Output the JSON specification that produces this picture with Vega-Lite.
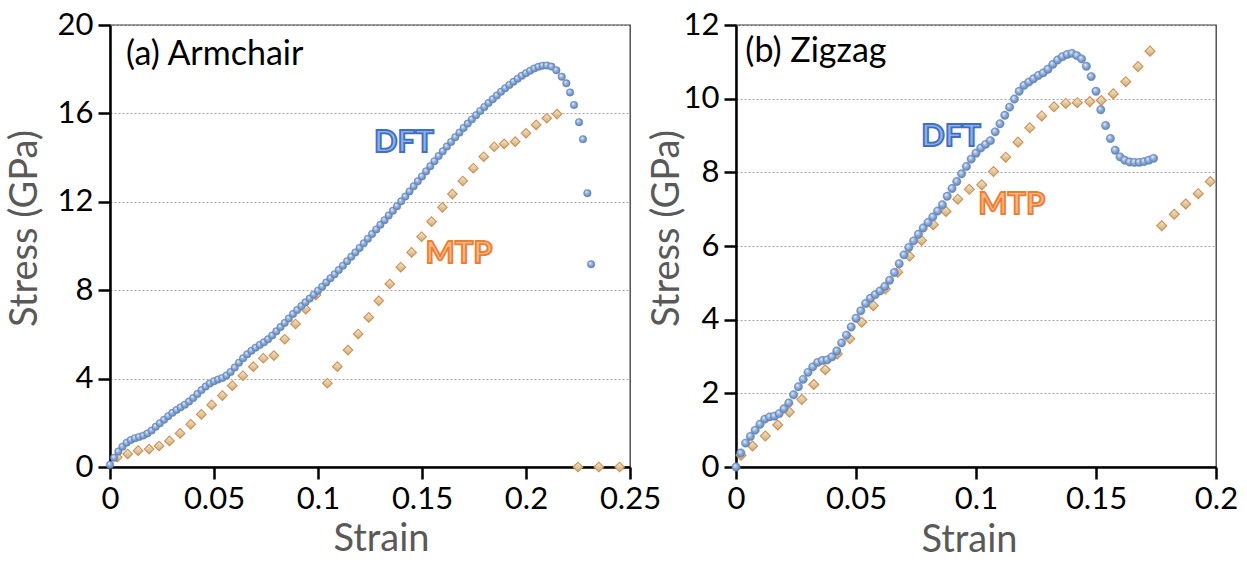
{
  "$schema": "https://vega.github.io/schema/vega-lite/v6.json",
  "padding": {"left": 5, "top": 8, "right": 5, "bottom": 5},
  "bounds": "flush",
  "spacing": 106,
  "datasets": {
    "pts": [
      {"panel":"a","series":"DFT","strain":0.000,"stress":0.10},
      {"panel":"a","series":"DFT","strain":0.002,"stress":0.42},
      {"panel":"a","series":"DFT","strain":0.004,"stress":0.70},
      {"panel":"a","series":"DFT","strain":0.006,"stress":0.92},
      {"panel":"a","series":"DFT","strain":0.008,"stress":1.10},
      {"panel":"a","series":"DFT","strain":0.010,"stress":1.22},
      {"panel":"a","series":"DFT","strain":0.012,"stress":1.30},
      {"panel":"a","series":"DFT","strain":0.014,"stress":1.36},
      {"panel":"a","series":"DFT","strain":0.016,"stress":1.42},
      {"panel":"a","series":"DFT","strain":0.018,"stress":1.52},
      {"panel":"a","series":"DFT","strain":0.020,"stress":1.65},
      {"panel":"a","series":"DFT","strain":0.022,"stress":1.82},
      {"panel":"a","series":"DFT","strain":0.024,"stress":1.98},
      {"panel":"a","series":"DFT","strain":0.026,"stress":2.14},
      {"panel":"a","series":"DFT","strain":0.028,"stress":2.30},
      {"panel":"a","series":"DFT","strain":0.030,"stress":2.45},
      {"panel":"a","series":"DFT","strain":0.032,"stress":2.58},
      {"panel":"a","series":"DFT","strain":0.034,"stress":2.70},
      {"panel":"a","series":"DFT","strain":0.036,"stress":2.82},
      {"panel":"a","series":"DFT","strain":0.038,"stress":2.96},
      {"panel":"a","series":"DFT","strain":0.040,"stress":3.12},
      {"panel":"a","series":"DFT","strain":0.042,"stress":3.30},
      {"panel":"a","series":"DFT","strain":0.044,"stress":3.48},
      {"panel":"a","series":"DFT","strain":0.046,"stress":3.64},
      {"panel":"a","series":"DFT","strain":0.048,"stress":3.78},
      {"panel":"a","series":"DFT","strain":0.050,"stress":3.88},
      {"panel":"a","series":"DFT","strain":0.052,"stress":3.96},
      {"panel":"a","series":"DFT","strain":0.054,"stress":4.03},
      {"panel":"a","series":"DFT","strain":0.056,"stress":4.14},
      {"panel":"a","series":"DFT","strain":0.058,"stress":4.30},
      {"panel":"a","series":"DFT","strain":0.060,"stress":4.50},
      {"panel":"a","series":"DFT","strain":0.062,"stress":4.72},
      {"panel":"a","series":"DFT","strain":0.064,"stress":4.92},
      {"panel":"a","series":"DFT","strain":0.066,"stress":5.10},
      {"panel":"a","series":"DFT","strain":0.068,"stress":5.26},
      {"panel":"a","series":"DFT","strain":0.070,"stress":5.40},
      {"panel":"a","series":"DFT","strain":0.072,"stress":5.52},
      {"panel":"a","series":"DFT","strain":0.074,"stress":5.64},
      {"panel":"a","series":"DFT","strain":0.076,"stress":5.78},
      {"panel":"a","series":"DFT","strain":0.078,"stress":5.95},
      {"panel":"a","series":"DFT","strain":0.080,"stress":6.14},
      {"panel":"a","series":"DFT","strain":0.082,"stress":6.33},
      {"panel":"a","series":"DFT","strain":0.084,"stress":6.52},
      {"panel":"a","series":"DFT","strain":0.086,"stress":6.72},
      {"panel":"a","series":"DFT","strain":0.088,"stress":6.92},
      {"panel":"a","series":"DFT","strain":0.090,"stress":7.10},
      {"panel":"a","series":"DFT","strain":0.092,"stress":7.28},
      {"panel":"a","series":"DFT","strain":0.094,"stress":7.45},
      {"panel":"a","series":"DFT","strain":0.096,"stress":7.62},
      {"panel":"a","series":"DFT","strain":0.098,"stress":7.80},
      {"panel":"a","series":"DFT","strain":0.100,"stress":7.98},
      {"panel":"a","series":"DFT","strain":0.102,"stress":8.16},
      {"panel":"a","series":"DFT","strain":0.104,"stress":8.35},
      {"panel":"a","series":"DFT","strain":0.106,"stress":8.54},
      {"panel":"a","series":"DFT","strain":0.108,"stress":8.72},
      {"panel":"a","series":"DFT","strain":0.110,"stress":8.91},
      {"panel":"a","series":"DFT","strain":0.112,"stress":9.11},
      {"panel":"a","series":"DFT","strain":0.114,"stress":9.31},
      {"panel":"a","series":"DFT","strain":0.116,"stress":9.51},
      {"panel":"a","series":"DFT","strain":0.118,"stress":9.71},
      {"panel":"a","series":"DFT","strain":0.120,"stress":9.91},
      {"panel":"a","series":"DFT","strain":0.122,"stress":10.12},
      {"panel":"a","series":"DFT","strain":0.124,"stress":10.33},
      {"panel":"a","series":"DFT","strain":0.126,"stress":10.54},
      {"panel":"a","series":"DFT","strain":0.128,"stress":10.75},
      {"panel":"a","series":"DFT","strain":0.130,"stress":10.96},
      {"panel":"a","series":"DFT","strain":0.132,"stress":11.17},
      {"panel":"a","series":"DFT","strain":0.134,"stress":11.38},
      {"panel":"a","series":"DFT","strain":0.136,"stress":11.59},
      {"panel":"a","series":"DFT","strain":0.138,"stress":11.80},
      {"panel":"a","series":"DFT","strain":0.140,"stress":12.02},
      {"panel":"a","series":"DFT","strain":0.142,"stress":12.24},
      {"panel":"a","series":"DFT","strain":0.144,"stress":12.47},
      {"panel":"a","series":"DFT","strain":0.146,"stress":12.70},
      {"panel":"a","series":"DFT","strain":0.148,"stress":12.93},
      {"panel":"a","series":"DFT","strain":0.150,"stress":13.15},
      {"panel":"a","series":"DFT","strain":0.152,"stress":13.38},
      {"panel":"a","series":"DFT","strain":0.154,"stress":13.61},
      {"panel":"a","series":"DFT","strain":0.156,"stress":13.84},
      {"panel":"a","series":"DFT","strain":0.158,"stress":14.07},
      {"panel":"a","series":"DFT","strain":0.160,"stress":14.29},
      {"panel":"a","series":"DFT","strain":0.162,"stress":14.50},
      {"panel":"a","series":"DFT","strain":0.164,"stress":14.71},
      {"panel":"a","series":"DFT","strain":0.166,"stress":14.92},
      {"panel":"a","series":"DFT","strain":0.168,"stress":15.13},
      {"panel":"a","series":"DFT","strain":0.170,"stress":15.34},
      {"panel":"a","series":"DFT","strain":0.172,"stress":15.54},
      {"panel":"a","series":"DFT","strain":0.174,"stress":15.73},
      {"panel":"a","series":"DFT","strain":0.176,"stress":15.92},
      {"panel":"a","series":"DFT","strain":0.178,"stress":16.11},
      {"panel":"a","series":"DFT","strain":0.180,"stress":16.29},
      {"panel":"a","series":"DFT","strain":0.182,"stress":16.47},
      {"panel":"a","series":"DFT","strain":0.184,"stress":16.64},
      {"panel":"a","series":"DFT","strain":0.186,"stress":16.81},
      {"panel":"a","series":"DFT","strain":0.188,"stress":16.98},
      {"panel":"a","series":"DFT","strain":0.190,"stress":17.14},
      {"panel":"a","series":"DFT","strain":0.192,"stress":17.29},
      {"panel":"a","series":"DFT","strain":0.194,"stress":17.43},
      {"panel":"a","series":"DFT","strain":0.196,"stress":17.57},
      {"panel":"a","series":"DFT","strain":0.198,"stress":17.70},
      {"panel":"a","series":"DFT","strain":0.200,"stress":17.82},
      {"panel":"a","series":"DFT","strain":0.202,"stress":17.93},
      {"panel":"a","series":"DFT","strain":0.204,"stress":18.03},
      {"panel":"a","series":"DFT","strain":0.206,"stress":18.11},
      {"panel":"a","series":"DFT","strain":0.208,"stress":18.16},
      {"panel":"a","series":"DFT","strain":0.210,"stress":18.17},
      {"panel":"a","series":"DFT","strain":0.2122,"stress":18.12},
      {"panel":"a","series":"DFT","strain":0.2146,"stress":17.95},
      {"panel":"a","series":"DFT","strain":0.2172,"stress":17.66},
      {"panel":"a","series":"DFT","strain":0.2194,"stress":17.36},
      {"panel":"a","series":"DFT","strain":0.2212,"stress":16.95},
      {"panel":"a","series":"DFT","strain":0.2231,"stress":16.38},
      {"panel":"a","series":"DFT","strain":0.2255,"stress":15.6},
      {"panel":"a","series":"DFT","strain":0.2274,"stress":14.83},
      {"panel":"a","series":"DFT","strain":0.2295,"stress":12.39},
      {"panel":"a","series":"DFT","strain":0.2313,"stress":9.17},

      {"panel":"a","series":"MTP","strain":0.0035,"stress":0.44},
      {"panel":"a","series":"MTP","strain":0.0085,"stress":0.59},
      {"panel":"a","series":"MTP","strain":0.0135,"stress":0.74},
      {"panel":"a","series":"MTP","strain":0.0188,"stress":0.81},
      {"panel":"a","series":"MTP","strain":0.0236,"stress":0.95},
      {"panel":"a","series":"MTP","strain":0.0286,"stress":1.18},
      {"panel":"a","series":"MTP","strain":0.0337,"stress":1.52},
      {"panel":"a","series":"MTP","strain":0.0388,"stress":1.93},
      {"panel":"a","series":"MTP","strain":0.0439,"stress":2.38},
      {"panel":"a","series":"MTP","strain":0.0489,"stress":2.81},
      {"panel":"a","series":"MTP","strain":0.0540,"stress":3.23},
      {"panel":"a","series":"MTP","strain":0.0588,"stress":3.68},
      {"panel":"a","series":"MTP","strain":0.0639,"stress":4.13},
      {"panel":"a","series":"MTP","strain":0.0689,"stress":4.54},
      {"panel":"a","series":"MTP","strain":0.0737,"stress":4.92},
      {"panel":"a","series":"MTP","strain":0.0788,"stress":5.04},
      {"panel":"a","series":"MTP","strain":0.0840,"stress":5.78},
      {"panel":"a","series":"MTP","strain":0.0892,"stress":6.47},
      {"panel":"a","series":"MTP","strain":0.0941,"stress":7.14},
      {"panel":"a","series":"MTP","strain":0.0990,"stress":7.78},
      {"panel":"a","series":"MTP","strain":0.1045,"stress":3.79},
      {"panel":"a","series":"MTP","strain":0.1093,"stress":4.54},
      {"panel":"a","series":"MTP","strain":0.1144,"stress":5.29},
      {"panel":"a","series":"MTP","strain":0.1193,"stress":6.02},
      {"panel":"a","series":"MTP","strain":0.1244,"stress":6.77},
      {"panel":"a","series":"MTP","strain":0.1292,"stress":7.52},
      {"panel":"a","series":"MTP","strain":0.1345,"stress":8.28},
      {"panel":"a","series":"MTP","strain":0.1398,"stress":9.04},
      {"panel":"a","series":"MTP","strain":0.1450,"stress":9.71},
      {"panel":"a","series":"MTP","strain":0.1498,"stress":10.42},
      {"panel":"a","series":"MTP","strain":0.1546,"stress":11.10},
      {"panel":"a","series":"MTP","strain":0.1598,"stress":11.75},
      {"panel":"a","series":"MTP","strain":0.1646,"stress":12.35},
      {"panel":"a","series":"MTP","strain":0.1696,"stress":12.94},
      {"panel":"a","series":"MTP","strain":0.1747,"stress":13.52},
      {"panel":"a","series":"MTP","strain":0.1797,"stress":14.04},
      {"panel":"a","series":"MTP","strain":0.1847,"stress":14.49},
      {"panel":"a","series":"MTP","strain":0.1895,"stress":14.62},
      {"panel":"a","series":"MTP","strain":0.1948,"stress":14.72},
      {"panel":"a","series":"MTP","strain":0.2000,"stress":15.10},
      {"panel":"a","series":"MTP","strain":0.2049,"stress":15.48},
      {"panel":"a","series":"MTP","strain":0.2100,"stress":15.78},
      {"panel":"a","series":"MTP","strain":0.2149,"stress":15.97},
      {"panel":"a","series":"MTP","strain":0.2250,"stress":0},
      {"panel":"a","series":"MTP","strain":0.2350,"stress":0},
      {"panel":"a","series":"MTP","strain":0.2450,"stress":0},

      {"panel":"b","series":"DFT","strain":0.000,"stress":0.00},
      {"panel":"b","series":"DFT","strain":0.002,"stress":0.38},
      {"panel":"b","series":"DFT","strain":0.004,"stress":0.65},
      {"panel":"b","series":"DFT","strain":0.006,"stress":0.83},
      {"panel":"b","series":"DFT","strain":0.008,"stress":1.00},
      {"panel":"b","series":"DFT","strain":0.010,"stress":1.16},
      {"panel":"b","series":"DFT","strain":0.012,"stress":1.30},
      {"panel":"b","series":"DFT","strain":0.014,"stress":1.36},
      {"panel":"b","series":"DFT","strain":0.016,"stress":1.38},
      {"panel":"b","series":"DFT","strain":0.018,"stress":1.45},
      {"panel":"b","series":"DFT","strain":0.020,"stress":1.58},
      {"panel":"b","series":"DFT","strain":0.022,"stress":1.74},
      {"panel":"b","series":"DFT","strain":0.024,"stress":1.96},
      {"panel":"b","series":"DFT","strain":0.026,"stress":2.18},
      {"panel":"b","series":"DFT","strain":0.028,"stress":2.38},
      {"panel":"b","series":"DFT","strain":0.030,"stress":2.57},
      {"panel":"b","series":"DFT","strain":0.032,"stress":2.72},
      {"panel":"b","series":"DFT","strain":0.034,"stress":2.84},
      {"panel":"b","series":"DFT","strain":0.036,"stress":2.89},
      {"panel":"b","series":"DFT","strain":0.038,"stress":2.91},
      {"panel":"b","series":"DFT","strain":0.040,"stress":2.99},
      {"panel":"b","series":"DFT","strain":0.042,"stress":3.15},
      {"panel":"b","series":"DFT","strain":0.044,"stress":3.37},
      {"panel":"b","series":"DFT","strain":0.046,"stress":3.58},
      {"panel":"b","series":"DFT","strain":0.048,"stress":3.80},
      {"panel":"b","series":"DFT","strain":0.050,"stress":4.04},
      {"panel":"b","series":"DFT","strain":0.052,"stress":4.24},
      {"panel":"b","series":"DFT","strain":0.054,"stress":4.44},
      {"panel":"b","series":"DFT","strain":0.056,"stress":4.58},
      {"panel":"b","series":"DFT","strain":0.058,"stress":4.68},
      {"panel":"b","series":"DFT","strain":0.060,"stress":4.78},
      {"panel":"b","series":"DFT","strain":0.062,"stress":4.90},
      {"panel":"b","series":"DFT","strain":0.064,"stress":5.07},
      {"panel":"b","series":"DFT","strain":0.066,"stress":5.28},
      {"panel":"b","series":"DFT","strain":0.068,"stress":5.52},
      {"panel":"b","series":"DFT","strain":0.070,"stress":5.76},
      {"panel":"b","series":"DFT","strain":0.072,"stress":5.96},
      {"panel":"b","series":"DFT","strain":0.074,"stress":6.14},
      {"panel":"b","series":"DFT","strain":0.076,"stress":6.32},
      {"panel":"b","series":"DFT","strain":0.078,"stress":6.49},
      {"panel":"b","series":"DFT","strain":0.080,"stress":6.64},
      {"panel":"b","series":"DFT","strain":0.082,"stress":6.79},
      {"panel":"b","series":"DFT","strain":0.084,"stress":6.95},
      {"panel":"b","series":"DFT","strain":0.086,"stress":7.12},
      {"panel":"b","series":"DFT","strain":0.088,"stress":7.35},
      {"panel":"b","series":"DFT","strain":0.090,"stress":7.56},
      {"panel":"b","series":"DFT","strain":0.092,"stress":7.75},
      {"panel":"b","series":"DFT","strain":0.094,"stress":7.96},
      {"panel":"b","series":"DFT","strain":0.096,"stress":8.16},
      {"panel":"b","series":"DFT","strain":0.098,"stress":8.36},
      {"panel":"b","series":"DFT","strain":0.100,"stress":8.52},
      {"panel":"b","series":"DFT","strain":0.102,"stress":8.66},
      {"panel":"b","series":"DFT","strain":0.104,"stress":8.76},
      {"panel":"b","series":"DFT","strain":0.106,"stress":8.86},
      {"panel":"b","series":"DFT","strain":0.108,"stress":9.10},
      {"panel":"b","series":"DFT","strain":0.110,"stress":9.32},
      {"panel":"b","series":"DFT","strain":0.112,"stress":9.55},
      {"panel":"b","series":"DFT","strain":0.114,"stress":9.77},
      {"panel":"b","series":"DFT","strain":0.116,"stress":9.99},
      {"panel":"b","series":"DFT","strain":0.118,"stress":10.20},
      {"panel":"b","series":"DFT","strain":0.120,"stress":10.36},
      {"panel":"b","series":"DFT","strain":0.122,"stress":10.45},
      {"panel":"b","series":"DFT","strain":0.124,"stress":10.54},
      {"panel":"b","series":"DFT","strain":0.126,"stress":10.63},
      {"panel":"b","series":"DFT","strain":0.128,"stress":10.70},
      {"panel":"b","series":"DFT","strain":0.130,"stress":10.80},
      {"panel":"b","series":"DFT","strain":0.132,"stress":10.93},
      {"panel":"b","series":"DFT","strain":0.134,"stress":11.05},
      {"panel":"b","series":"DFT","strain":0.136,"stress":11.14},
      {"panel":"b","series":"DFT","strain":0.138,"stress":11.20},
      {"panel":"b","series":"DFT","strain":0.140,"stress":11.23},
      {"panel":"b","series":"DFT","strain":0.142,"stress":11.17},
      {"panel":"b","series":"DFT","strain":0.144,"stress":11.08},
      {"panel":"b","series":"DFT","strain":0.146,"stress":10.88},
      {"panel":"b","series":"DFT","strain":0.148,"stress":10.60},
      {"panel":"b","series":"DFT","strain":0.150,"stress":10.20},
      {"panel":"b","series":"DFT","strain":0.152,"stress":9.70},
      {"panel":"b","series":"DFT","strain":0.154,"stress":9.27},
      {"panel":"b","series":"DFT","strain":0.156,"stress":8.92},
      {"panel":"b","series":"DFT","strain":0.158,"stress":8.60},
      {"panel":"b","series":"DFT","strain":0.160,"stress":8.42},
      {"panel":"b","series":"DFT","strain":0.162,"stress":8.33},
      {"panel":"b","series":"DFT","strain":0.164,"stress":8.28},
      {"panel":"b","series":"DFT","strain":0.166,"stress":8.27},
      {"panel":"b","series":"DFT","strain":0.168,"stress":8.27},
      {"panel":"b","series":"DFT","strain":0.170,"stress":8.29},
      {"panel":"b","series":"DFT","strain":0.172,"stress":8.33},
      {"panel":"b","series":"DFT","strain":0.174,"stress":8.38},

      {"panel":"b","series":"MTP","strain":0.0021,"stress":0.32},
      {"panel":"b","series":"MTP","strain":0.0069,"stress":0.57},
      {"panel":"b","series":"MTP","strain":0.0122,"stress":0.84},
      {"panel":"b","series":"MTP","strain":0.0174,"stress":1.14},
      {"panel":"b","series":"MTP","strain":0.0222,"stress":1.49},
      {"panel":"b","series":"MTP","strain":0.0274,"stress":1.83},
      {"panel":"b","series":"MTP","strain":0.0324,"stress":2.24},
      {"panel":"b","series":"MTP","strain":0.0372,"stress":2.64},
      {"panel":"b","series":"MTP","strain":0.0422,"stress":3.07},
      {"panel":"b","series":"MTP","strain":0.0474,"stress":3.48},
      {"panel":"b","series":"MTP","strain":0.0524,"stress":3.93},
      {"panel":"b","series":"MTP","strain":0.0572,"stress":4.38},
      {"panel":"b","series":"MTP","strain":0.0622,"stress":4.83},
      {"panel":"b","series":"MTP","strain":0.0674,"stress":5.29},
      {"panel":"b","series":"MTP","strain":0.0723,"stress":5.72},
      {"panel":"b","series":"MTP","strain":0.0773,"stress":6.15},
      {"panel":"b","series":"MTP","strain":0.0822,"stress":6.58},
      {"panel":"b","series":"MTP","strain":0.0875,"stress":6.94},
      {"panel":"b","series":"MTP","strain":0.0924,"stress":7.27},
      {"panel":"b","series":"MTP","strain":0.0972,"stress":7.54},
      {"panel":"b","series":"MTP","strain":0.1024,"stress":7.66},
      {"panel":"b","series":"MTP","strain":0.1073,"stress":8.02},
      {"panel":"b","series":"MTP","strain":0.1124,"stress":8.41},
      {"panel":"b","series":"MTP","strain":0.1175,"stress":8.82},
      {"panel":"b","series":"MTP","strain":0.1224,"stress":9.21},
      {"panel":"b","series":"MTP","strain":0.1274,"stress":9.53},
      {"panel":"b","series":"MTP","strain":0.1325,"stress":9.78},
      {"panel":"b","series":"MTP","strain":0.1374,"stress":9.87},
      {"panel":"b","series":"MTP","strain":0.1422,"stress":9.89},
      {"panel":"b","series":"MTP","strain":0.1474,"stress":9.92},
      {"panel":"b","series":"MTP","strain":0.1522,"stress":9.95},
      {"panel":"b","series":"MTP","strain":0.1572,"stress":10.13},
      {"panel":"b","series":"MTP","strain":0.1624,"stress":10.46},
      {"panel":"b","series":"MTP","strain":0.1675,"stress":10.87},
      {"panel":"b","series":"MTP","strain":0.1725,"stress":11.29},
      {"panel":"b","series":"MTP","strain":0.1774,"stress":6.55},
      {"panel":"b","series":"MTP","strain":0.1826,"stress":6.86},
      {"panel":"b","series":"MTP","strain":0.1874,"stress":7.14},
      {"panel":"b","series":"MTP","strain":0.1926,"stress":7.42},
      {"panel":"b","series":"MTP","strain":0.1976,"stress":7.75}
    ],
    "lbl": [
      {"panel":"a","kind":"DFT","label":"DFT","strain":0.1413,"stress":14.65},
      {"panel":"a","kind":"MTP","label":"MTP","strain":0.1678,"stress":9.62},
      {"panel":"a","kind":"title","label":"(a) Armchair","strain":0.0077,"stress":18.19},
      {"panel":"b","kind":"DFT","label":"DFT","strain":0.0896,"stress":8.97},
      {"panel":"b","kind":"MTP","label":"MTP","strain":0.1149,"stress":7.12},
      {"panel":"b","kind":"title","label":"(b) Zigzag","strain":0.0039,"stress":11.0}
    ]
  },
  "hconcat": [
    {
      "width": 520,
      "height": 442,
      "encoding": {
        "x": {"field":"strain","type":"quantitative","scale":{"domain":[0,0.25],"nice":false,"zero":false},
              "axis":{"values":[0,0.05,0.1,0.15,0.2,0.25],"format":".2~f","grid":false,"title":"Strain","titleX":271,"titleY":83,"titleBaseline":"alphabetic"}},
        "y": {"field":"stress","type":"quantitative","scale":{"domain":[0,20],"nice":false},
              "axis":{"values":[0,4,8,12,16,20],"title":"Stress (GPa)","titleX":-74,"titleY":203,"titleBaseline":"alphabetic"}}
      },
      "layer": [
        {"data":{"name":"pts"},"transform":[{"filter":"datum.panel==='a' && datum.series==='MTP'"}],
         "mark":{"type":"point","shape":"diamond","filled":true,"opacity":1,"size":92,
                 "fill":{"gradient":"linear","x1":0,"y1":0,"x2":0,"y2":1,"stops":[{"offset":0,"color":"#f1ead2"},{"offset":1,"color":"#c2b07a"}]},
                 "stroke":"#dc8a4c","strokeWidth":1.1}},
        {"data":{"name":"pts"},"transform":[{"filter":"datum.panel==='a' && datum.series==='DFT'"}],
         "mark":{"type":"point","shape":"circle","filled":true,"opacity":1,"size":56,
                 "fill":{"gradient":"radial","x1":0.35,"y1":0.3,"r1":0,"x2":0.5,"y2":0.5,"r2":0.55,"stops":[{"offset":0,"color":"#eef3fb"},{"offset":0.45,"color":"#94b1da"},{"offset":1,"color":"#5478ae"}]},
                 "stroke":"#6386ba","strokeWidth":0.5}},
        {"data":{"name":"lbl"},"transform":[{"filter":"datum.panel==='a' && datum.kind==='DFT'"}],
         "mark":{"type":"text","font":"Lato","fontWeight":"bold","fontSize":31,"align":"center","baseline":"middle","fill":"#8fb0e6","stroke":"#3f6fc4","strokeWidth":1.8},
         "encoding":{"text":{"field":"label"}}},
        {"data":{"name":"lbl"},"transform":[{"filter":"datum.panel==='a' && datum.kind==='MTP'"}],
         "mark":{"type":"text","font":"Lato","fontWeight":"bold","fontSize":31,"align":"center","baseline":"middle","fill":"#f8b784","stroke":"#ed7d31","strokeWidth":1.8},
         "encoding":{"text":{"field":"label"}}},
        {"data":{"name":"lbl"},"transform":[{"filter":"datum.panel==='a' && datum.kind==='title'"}],
         "mark":{"type":"text","font":"Lato","fontSize":34,"align":"left","baseline":"alphabetic","color":"#000000"},
         "encoding":{"text":{"field":"label"}}}
      ]
    },
    {
      "width": 480,
      "height": 442,
      "encoding": {
        "x": {"field":"strain","type":"quantitative","scale":{"domain":[0,0.2],"nice":false,"zero":false},
              "axis":{"values":[0,0.05,0.1,0.15,0.2],"format":".2~f","grid":false,"title":"Strain","titleX":233,"titleY":84,"titleBaseline":"alphabetic"}},
        "y": {"field":"stress","type":"quantitative","scale":{"domain":[0,12],"nice":false},
              "axis":{"values":[0,2,4,6,8,10,12],"title":"Stress (GPa)","titleX":-58,"titleY":203,"titleBaseline":"alphabetic"}}
      },
      "layer": [
        {"data":{"name":"pts"},"transform":[{"filter":"datum.panel==='b' && datum.series==='MTP'"}],
         "mark":{"type":"point","shape":"diamond","filled":true,"opacity":1,"size":100,
                 "fill":{"gradient":"linear","x1":0,"y1":0,"x2":0,"y2":1,"stops":[{"offset":0,"color":"#f1ead2"},{"offset":1,"color":"#c2b07a"}]},
                 "stroke":"#dc8a4c","strokeWidth":1.1}},
        {"data":{"name":"pts"},"transform":[{"filter":"datum.panel==='b' && datum.series==='DFT'"}],
         "mark":{"type":"point","shape":"circle","filled":true,"opacity":1,"size":70,
                 "fill":{"gradient":"radial","x1":0.35,"y1":0.3,"r1":0,"x2":0.5,"y2":0.5,"r2":0.55,"stops":[{"offset":0,"color":"#eef3fb"},{"offset":0.45,"color":"#94b1da"},{"offset":1,"color":"#5478ae"}]},
                 "stroke":"#6386ba","strokeWidth":0.5}},
        {"data":{"name":"lbl"},"transform":[{"filter":"datum.panel==='b' && datum.kind==='DFT'"}],
         "mark":{"type":"text","font":"Lato","fontWeight":"bold","fontSize":31,"align":"center","baseline":"middle","fill":"#8fb0e6","stroke":"#3f6fc4","strokeWidth":1.8},
         "encoding":{"text":{"field":"label"}}},
        {"data":{"name":"lbl"},"transform":[{"filter":"datum.panel==='b' && datum.kind==='MTP'"}],
         "mark":{"type":"text","font":"Lato","fontWeight":"bold","fontSize":31,"align":"center","baseline":"middle","fill":"#f8b784","stroke":"#ed7d31","strokeWidth":1.8},
         "encoding":{"text":{"field":"label"}}},
        {"data":{"name":"lbl"},"transform":[{"filter":"datum.panel==='b' && datum.kind==='title'"}],
         "mark":{"type":"text","font":"Lato","fontSize":34,"align":"left","baseline":"alphabetic","color":"#000000"},
         "encoding":{"text":{"field":"label"}}}
      ]
    }
  ],
  "config": {
    "font": "Lato",
    "view": {"stroke": "#3a3a3a", "strokeWidth": 1.3},
    "axis": {
      "domainColor": "#000000", "domainWidth": 2.5,
      "tickColor": "#000000", "tickWidth": 2.5, "tickSize": 12,
      "labelFont": "Lato", "labelFontSize": 31, "labelColor": "#000000", "labelPadding": 5,
      "labelOverlap": false, "labelFlush": false,
      "titleFont": "Lato", "titleFontSize": 38, "titleFontWeight": "normal", "titleColor": "#595959",
      "gridColor": "#a6a6a6", "gridDash": [2, 2], "gridWidth": 1
    },
    "axisY": {"grid": true}
  }
}
